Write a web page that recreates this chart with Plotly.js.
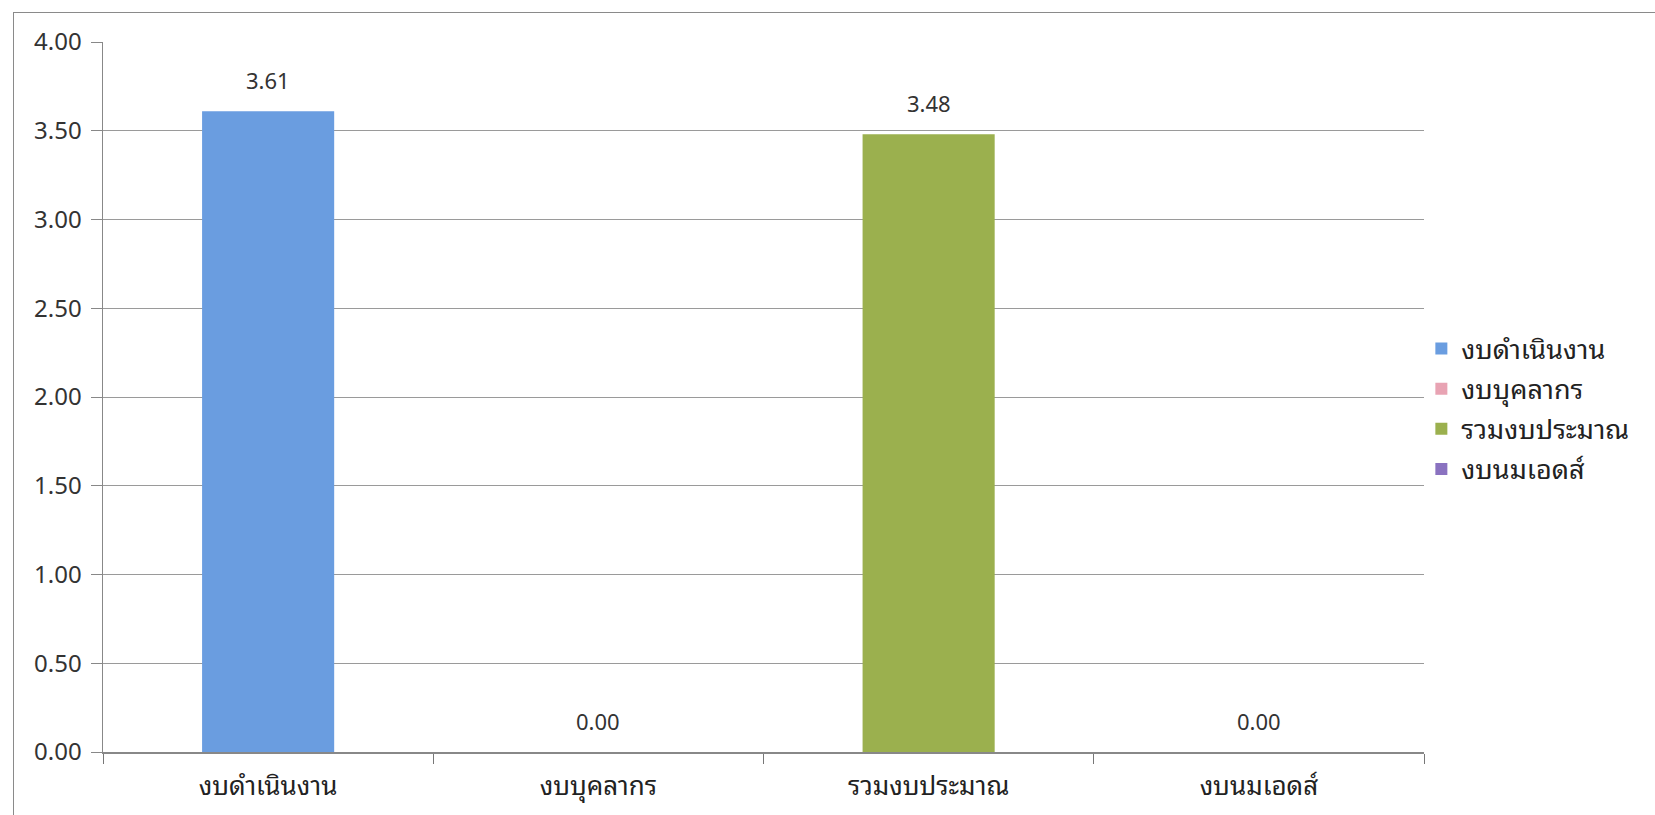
<!DOCTYPE html>
<html>
<head>
<meta charset="utf-8">
<script src="https://cdn.plot.ly/plotly-3.0.1.min.js"></script>
<style>
  html, body { margin: 0; padding: 0; background: #ffffff; }
  #wrap { position: relative; width: 1655px; height: 815px; overflow: hidden; }
  #chart { position: absolute; left: 0; top: 0; width: 1655px; height: 815px; }
  #frame { position: absolute; left: 13px; top: 12px; width: 1660px; height: 820px;
           border: 1.5px solid #8a8a8a; pointer-events: none; }
</style>
</head>
<body>
<div id="wrap">
  <div id="chart"></div>
  <div id="frame"></div>
</div>
<script>
const categories = ["งบดำเนินงาน", "งบบุคลากร", "รวมงบประมาณ", "งบนมเอดส์"];
const values = [3.61, 0.00, 3.48, 0.00];
const colors = ["#6a9de0", "#e8a3b3", "#9bb04e", "#8a72c0"];
const yTickVals = [0, 0.5, 1, 1.5, 2, 2.5, 3, 3.5, 4];
const yTickText = ["0.00", "0.50", "1.00", "1.50", "2.00", "2.50", "3.00", "3.50", "4.00"];

const FONT = "Noto Sans Thai Looped, Loma, Garuda, Tlwg Typo, Noto Sans Thai, Noto Sans, Tahoma, sans-serif";

const traces = categories.map((c, i) => ({
  type: "bar",
  name: c,
  legendgroup: "g" + i,
  x: [c],
  y: [values[i]],
  width: 0.4,
  marker: { color: colors[i], line: { width: 0 } },
  hoverinfo: "x+y"
}));

const annotations = categories.map((c, i) => ({
  x: c,
  y: values[i],
  xref: "x",
  yref: "y",
  text: values[i].toFixed(2),
  showarrow: false,
  yanchor: "bottom",
  yshift: 12,
  font: { family: FONT, size: 22, color: "#333333" }
}));

const layout = {
  width: 1655,
  height: 815,
  margin: { l: 103, r: 231, t: 42, b: 63 },
  paper_bgcolor: "rgba(0,0,0,0)",
  plot_bgcolor: "#ffffff",
  barmode: "overlay",
  showlegend: true,
  annotations: annotations,
  font: { family: FONT, color: "#222222" },
  xaxis: {
    type: "category",
    categoryorder: "array",
    categoryarray: categories,
    tickson: "boundaries",
    ticks: "outside",
    ticklen: 10,
    tickcolor: "#777777",
    showline: true,
    linecolor: "#888888",
    linewidth: 1.5,
    showgrid: false,
    tickfont: { family: FONT, size: 26, color: "#222222" },
    ticklabelstandoff: 10
  },
  yaxis: {
    range: [0, 4],
    tickvals: yTickVals,
    ticktext: yTickText,
    ticks: "outside",
    ticklen: 11,
    tickcolor: "#888888",
    showline: true,
    linecolor: "#888888",
    linewidth: 1.5,
    showgrid: true,
    gridcolor: "#9a9a9a",
    gridwidth: 1,
    zeroline: false,
    tickfont: { family: FONT, size: 24, color: "#333333" },
    ticklabelstandoff: 4
  },
  legend: {
    x: 0.998,
    xanchor: "left",
    y: 0.483,
    yanchor: "middle",
    font: { family: FONT, size: 27, color: "#222222" },
    bgcolor: "rgba(0,0,0,0)",
    itemwidth: 30,
    tracegroupgap: 2,
    traceorder: "grouped"
  }
};

Plotly.newPlot("chart", traces, layout, { displayModeBar: false, staticPlot: true });
</script>
</body>
</html>
